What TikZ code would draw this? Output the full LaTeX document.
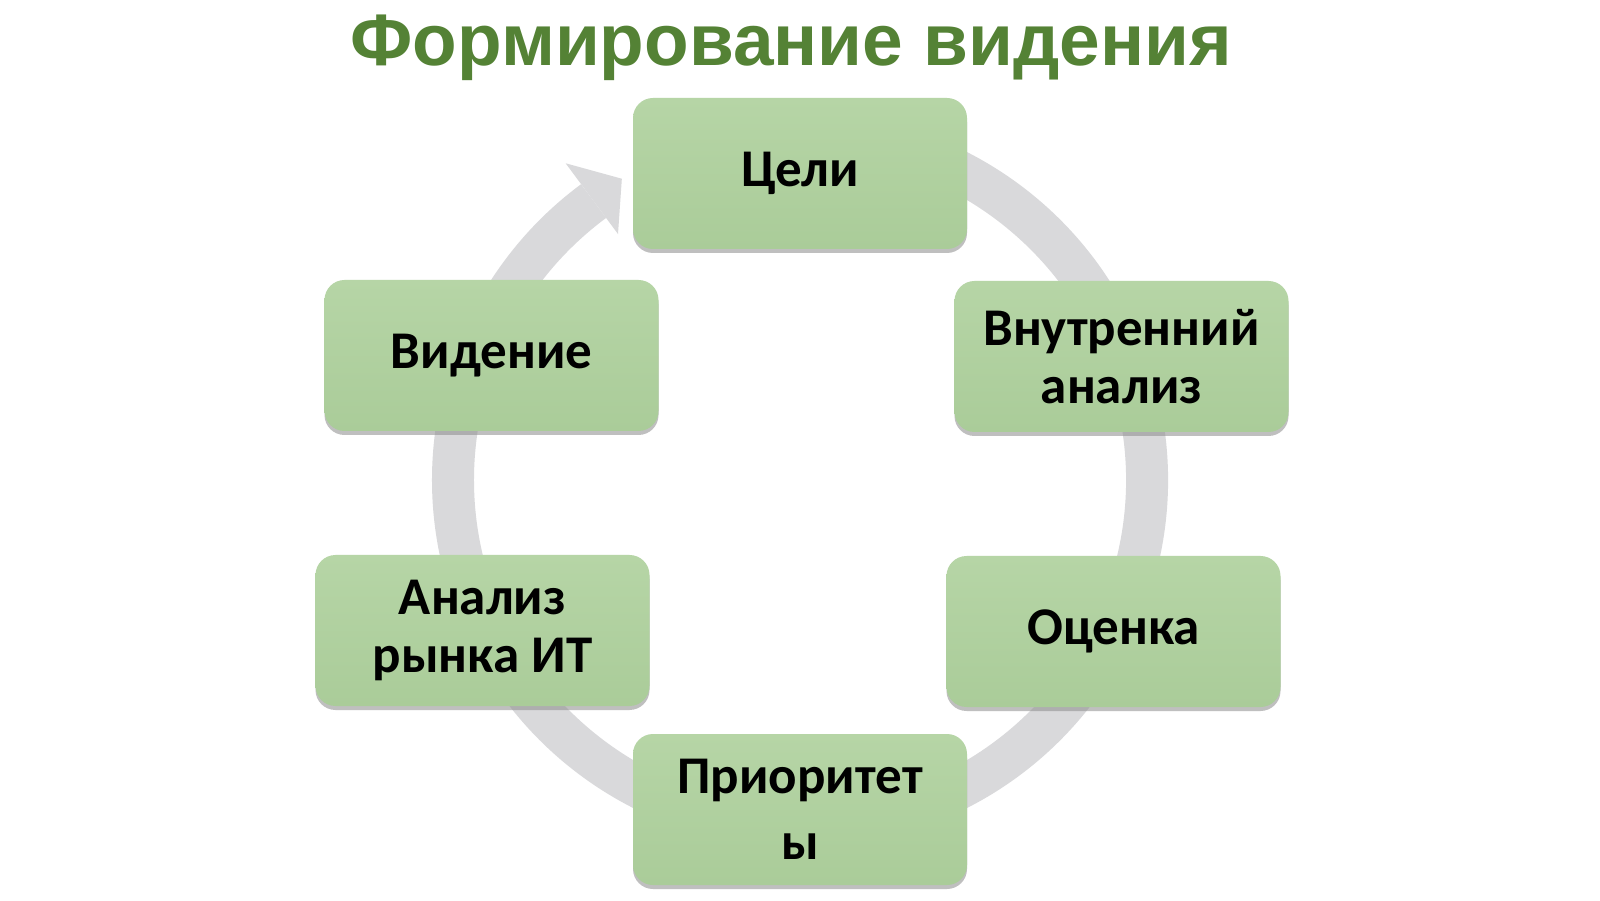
\documentclass[tikz,border=0pt]{standalone}
\usepackage{fontspec}
\setmainfont{Carlito}
\newfontfamily\titlefont{Liberation Sans}
\usetikzlibrary{shadows,calc}
\definecolor{titlegreen}{RGB}{84,130,53}
\definecolor{boxtop}{RGB}{182,213,166}
\definecolor{boxbot}{RGB}{170,204,153}
\definecolor{ringgray}{RGB}{217,217,219}
\tikzset{
  stagebox/.style={rounded corners=20pt, minimum width=334pt, minimum height=151pt,
    top color=boxtop, bottom color=boxbot, draw=none,
    drop shadow={shadow xshift=0pt, shadow yshift=-4pt, fill=black!45, opacity=0.55},
    align=center, font=\fontsize{53}{58}\selectfont\bfseries, text=black, inner sep=0pt},
  ringarc/.style={draw=ringgray, line width=42pt},
  ringhead/.style={fill=ringgray, draw=none}
}
\begin{document}
\begin{tikzpicture}[x=1pt,y=1pt]
\useasboundingbox[fill=white] (0,0) rectangle (1600,900);
\coordinate (ctr) at (800,420);
% ring
\draw[ringarc] (ctr) ++(105:347) arc[start angle=105, end angle=-233.5, radius=347];
\coordinate (b1) at ($(ctr)+(126.5:394)$);
\coordinate (tip) at ($(ctr)+(120.6:350)$);
\coordinate (b2) at ($(ctr)+(126.5:306)$);
\fill[ringhead] (b1) -- (tip) -- (b2) -- cycle;
% title
\node[font=\titlefont\fontsize{73}{80}\selectfont\bfseries, text=titlegreen] (title) at (791,852) {Формирование видения};
% boxes
\node[stagebox] (goals) at (800,726.5) {Цели};
\node[stagebox] (inner) at (1121.5,543.5) {Внутренний\\анализ};
\node[stagebox] (eval) at (1113.5,268.5) {Оценка};
\node[stagebox, font=\fontsize{53}{66}\selectfont\bfseries] (prio) at (800,90.5) {Приоритет\\ы};
\node[stagebox] (market) at (482.5,269.5) {Анализ\\рынка ИТ};
\node[stagebox] (vision) at (491.5,544.5) {Видение};
\end{tikzpicture}
\end{document}
